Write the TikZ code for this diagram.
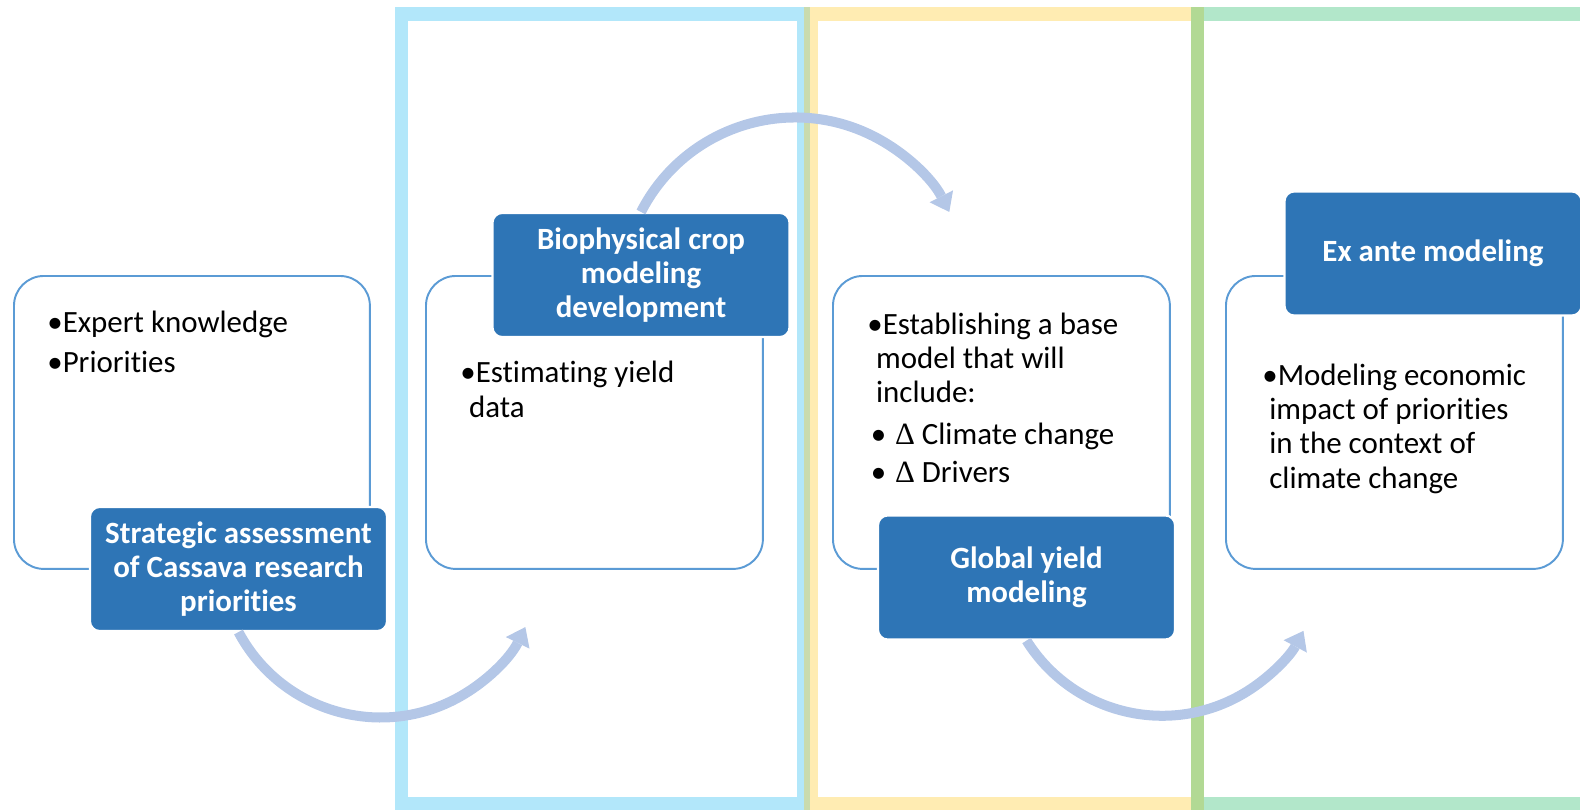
\documentclass[tikz,border=0pt]{standalone}
\usepackage{fontspec}
\setmainfont{Carlito}[Ligatures=NoCommon]
\newfontfamily\symfont{Liberation Serif}
\usetikzlibrary{arrows.meta}
\definecolor{cyanfr}{HTML}{00B0F0}
\definecolor{goldfr}{HTML}{FFC000}
\definecolor{greenfr}{HTML}{00B050}
\definecolor{boxline}{HTML}{5B9BD5}
\definecolor{labfill}{HTML}{2E75B6}
\definecolor{arcblue}{HTML}{B4C7E7}

\begin{document}
\begin{tikzpicture}[x=0.02cm, y=-0.02cm,
  frame/.style={line width=0.27cm, opacity=0.3},
  panel/.style={draw=boxline, line width=1.1pt, fill=white, rounded corners=17pt,
    anchor=north west, minimum width=6.74cm, minimum height=5.86cm},
  stagebox/.style={draw=white, line width=1.2pt, fill=labfill, rounded corners=5.5pt,
    minimum width=5.94cm, minimum height=2.48cm, text=white, align=center,
    font=\fontsize{17.6}{19.5}\selectfont\bfseries},
  body/.style={anchor=base west, align=left, inner sep=0pt,
    font=\fontsize{17.6}{19.5}\selectfont},
  flow/.style={arcblue, line width=5.7pt,
    -{Triangle[width=15pt,length=10pt,line width=0pt]}}]
\useasboundingbox (0,0) rectangle (1580,809);

% coloured bands
\draw[frame, cyanfr] (401.5,14) rectangle (803.5,803.5);
\draw[frame, goldfr] (811,14) rectangle (1197.5,803.5);
\draw[frame, greenfr] (1197.5,14) rectangle (1600,803.5);

% white panels
\node[panel, minimum width=7.12cm] (P1) at (13,275) {};
\node[panel] (P2) at (425,275) {};
\node[panel] (P3) at (832,275) {};
\node[panel] (P4) at (1225,275) {};

% stage labels
\node[stagebox] (L1) at (238.5,569) {Strategic assessment\\of Cassava research\\priorities};
\node[stagebox] (L2) at (641,275) {Biophysical crop\\modeling\\development};
\node[stagebox] (L3) at (1026.5,577.5) {Global yield\\modeling};
\node[stagebox] (L4) at (1433,253.5) {Ex ante modeling};

% arrows between stages
\draw[flow] (L1.south) arc[start angle=152, end angle=26, radius=161];
\draw[flow] (L2.north) arc[start angle=207, end angle=333, radius=173];
\draw[flow] (L3.south) arc[start angle=148, end angle=28, radius=160];

% panel texts (base = last line)
\node[body] (T1) at (47,372) {•Expert knowledge\\[3pt]•Priorities};
\node[body] (T2) at (460,417) {•Estimating yield\\\hspace*{5pt}data};
\node[body] (T3) at (867,482) {•Establishing a base\\\hspace*{5pt}model that will\\\hspace*{5pt}include:\\[4pt]
  \hspace*{2pt}•\hspace*{5pt}{\symfont Δ} Climate change\\[2pt]\hspace*{2pt}•\hspace*{5pt}{\symfont Δ} Drivers};
\node[body] (T4) at (1262,488) {•Modeling economic\\\hspace*{4pt}impact of priorities\\\hspace*{4pt}in the context of\\\hspace*{4pt}climate change};
\end{tikzpicture}
\end{document}
